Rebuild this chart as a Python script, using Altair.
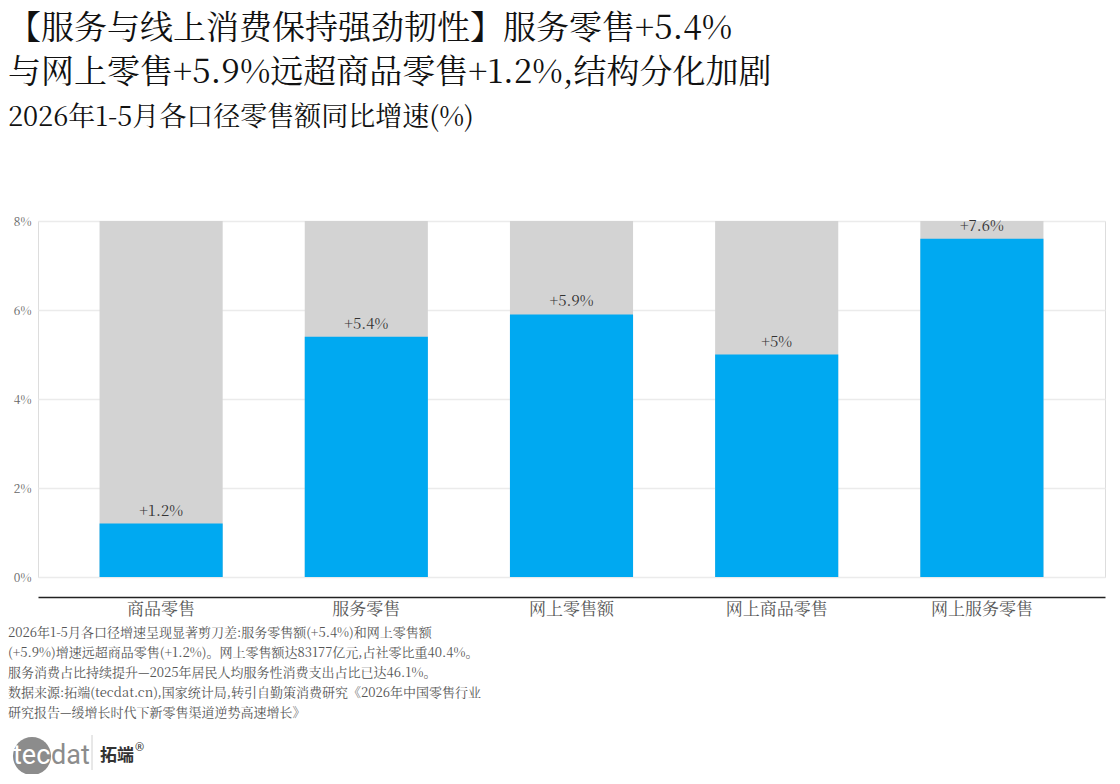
import altair as alt
import pandas as pd

categories = ["商品零售", "服务零售", "网上零售额", "网上商品零售", "网上服务零售"]
growth = [1.2, 5.4, 5.9, 5.0, 7.6]
full_scale = [8, 8, 8, 8, 8]
y_ticks = [0, 2, 4, 6, 8]

title_lines = ["【服务与线上消费保持强劲韧性】服务零售+5.4%", "与网上零售+5.9%远超商品零售+1.2%,结构分化加剧"]
subtitle = "2026年1-5月各口径零售额同比增速(%)"
notes = [
    "2026年1-5月各口径增速呈现显著剪刀差:服务零售额(+5.4%)和网上零售额",
    "(+5.9%)增速远超商品零售(+1.2%)。网上零售额达83177亿元,占社零比重40.4%。",
    "服务消费占比持续提升—2025年居民人均服务性消费支出占比已达46.1%。",
    "数据来源:拓端(tecdat.cn),国家统计局,转引自勤策消费研究《2026年中国零售行业",
    "研究报告—缓增长时代下新零售渠道逆势高速增长》",
]

FONT = "Noto Serif CJK SC, Liberation Serif, Noto Sans CJK SC"
BLUE = "#00A9F1"
GREY = "#D3D3D3"

df = pd.DataFrame({"cat": categories, "value": growth, "full": full_scale})

W, H = 1067, 356

x_enc = alt.X(
    "cat:N", sort=categories, title=None,
    scale=alt.Scale(paddingInner=0.4, paddingOuter=0.3),
    axis=alt.Axis(labelAngle=0, labelFontSize=17, labelColor="#555", labelFont=FONT,
                  labelPadding=4, ticks=False, domainColor="#222", domainWidth=1.5,
                  offset=20, grid=False),
)

bg = alt.Chart(df).mark_bar(color=GREY).encode(
    x=x_enc,
    y=alt.Y("full:Q", scale=alt.Scale(domain=[0, 8], nice=False), title=None,
            axis=alt.Axis(values=y_ticks, labelExpr="datum.value + '%'", labelFontSize=12,
                          labelColor="#666", labelFont=FONT, labelPadding=7, ticks=False,
                          domain=False, gridColor="#EBEBEB", gridWidth=1.5)),
)

fg = alt.Chart(df).mark_bar(color=BLUE).encode(
    x=alt.X("cat:N", sort=categories),
    y=alt.Y("value:Q"),
)

labels = alt.Chart(df).transform_calculate(
    label="'+' + datum.value + '%'"
).mark_text(baseline="bottom", dy=-5, fontSize=15, color="#333", font=FONT).encode(
    x=alt.X("cat:N", sort=categories),
    y=alt.Y("value:Q"),
    text="label:N",
)

one = pd.DataFrame({"k": [0]})

note_text = alt.Chart(one).mark_text(
    align="left", baseline="top", fontSize=13, lineHeight=20, color="#555", font=FONT
).encode(x=alt.value(-30), y=alt.value(406), text=alt.value(notes))

LX = 3
logo_circle = alt.Chart(one).mark_point(
    shape="circle", filled=True, color="#8C8C8C", opacity=1, size=1450
).encode(x=alt.value(-9 + LX), y=alt.value(535))

logo_tec = alt.Chart(one).mark_text(
    align="left", baseline="alphabetic", fontSize=27, color="#FFFFFF",
    font="Liberation Sans Narrow, Roboto, Liberation Sans"
).encode(x=alt.value(-28 + LX), y=alt.value(543), text=alt.value("tec"))

logo_dat = alt.Chart(one).mark_text(
    align="left", baseline="alphabetic", fontSize=27, color="#8C8C8C",
    font="Liberation Sans Narrow, Roboto, Liberation Sans"
).encode(x=alt.value(10 + LX), y=alt.value(543), text=alt.value("dat"))

logo_bar = alt.Chart(one).mark_rule(color="#D0D0D0", strokeWidth=1).encode(
    x=alt.value(51 + LX), y=alt.value(514), y2=alt.value(549)
)

logo_cn = alt.Chart(one).mark_text(
    align="left", baseline="middle", fontSize=17, fontWeight="bold", color="#333",
    font="Noto Sans CJK SC"
).encode(x=alt.value(59 + LX), y=alt.value(535), text=alt.value("拓端"))

logo_r = alt.Chart(one).mark_text(
    align="left", baseline="middle", fontSize=11, color="#333", font="Noto Sans"
).encode(x=alt.value(94 + LX), y=alt.value(527), text=alt.value("®"))

chart = alt.layer(
    bg, fg, labels, note_text, logo_circle, logo_tec, logo_dat, logo_bar, logo_cn, logo_r
).properties(
    width=W, height=H,
    title=alt.TitleParams(
        text=title_lines, subtitle=subtitle, anchor="start", dx=0,
        fontSize=33, lineHeight=44, fontWeight="normal", color="#111", font=FONT,
        subtitleFontSize=27, subtitleColor="#111", subtitleFont=FONT,
        subtitlePadding=15, offset=84,
    ),
    autosize=alt.AutoSizeParams(type="none"),
    padding={"left": 30, "top": 213, "right": 5, "bottom": 197},
).configure_view(stroke=None).configure(background="white")

chart.save("out.html", embed_options={"renderer": "svg", "actions": False})
